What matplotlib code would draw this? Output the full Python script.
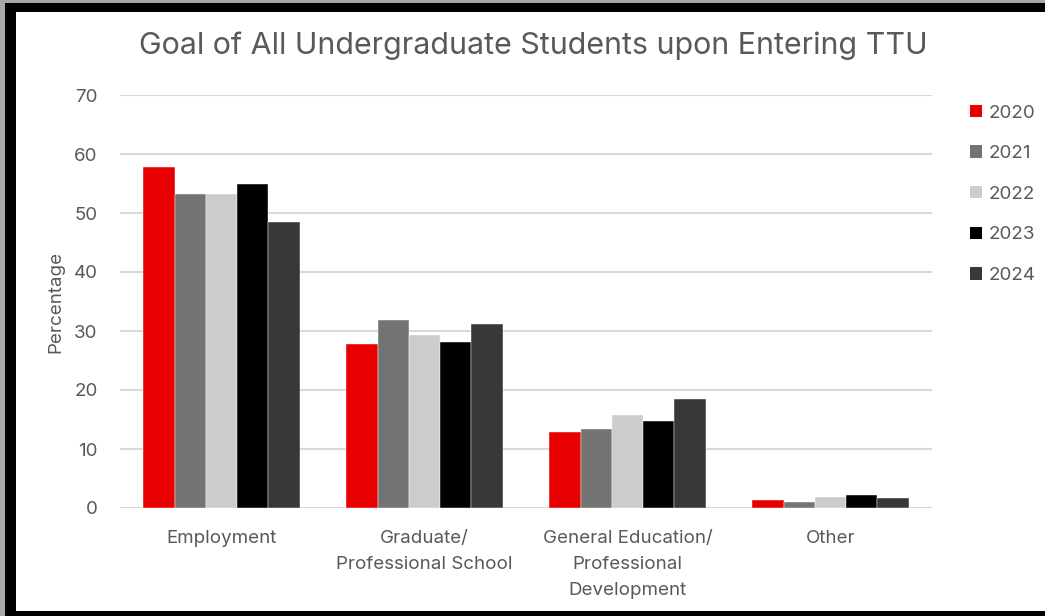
import numpy as np
import matplotlib.pyplot as plt
from matplotlib.patches import Patch, Rectangle

categories = ["Employment", "Graduate/\nProfessional School",
              "General Education/\nProfessional\nDevelopment", "Other"]
years = ["2020", "2021", "2022", "2023", "2024"]
values = {
    "2020": [57.8, 27.8, 12.9, 1.3],
    "2021": [53.2, 31.8, 13.4, 1.1],
    "2022": [53.2, 29.3, 15.7, 1.8],
    "2023": [55.0, 28.1, 14.7, 2.2],
    "2024": [48.5, 31.2, 18.5, 1.7],
}
colors = ["#E80000", "#737373", "#CCCCCC", "#000000", "#383838"]
yticks = [0, 10, 20, 30, 40, 50, 60, 70]

plt.rcParams["font.family"] = ["Inter", "DejaVu Sans"]
text_color = "#595959"

W, H = 1045, 616
fig = plt.figure(figsize=(W / 100, H / 100), dpi=100)
fig.patch.set_facecolor("black")

# frame: textured edge strip, black border, white chart area
fig.patches.append(Rectangle((0, 0), 5 / W, 1, transform=fig.transFigure,
                             facecolor="#a8a8a8", edgecolor="none", zorder=-5))
fig.patches.append(Rectangle((0, 1 - 3 / H), 1, 3 / H, transform=fig.transFigure,
                             facecolor="#a8a8a8", edgecolor="none", zorder=-5))
fig.patches.append(Rectangle((16 / W, 5 / H), 1 - 16 / W, (611 - 12) / H,
                             transform=fig.transFigure, facecolor="white",
                             edgecolor="none", zorder=-5))

ax = fig.add_axes([120 / W, (H - 508) / H, (932 - 120) / W, (508 - 95) / H])
ax.set_facecolor("none")

x = np.arange(len(categories))
bar_w = 1 / 6.5
for i, yr in enumerate(years):
    ax.bar(x + (i - 2) * bar_w, values[yr], width=bar_w, color=colors[i],
           edgecolor="white", linewidth=0.3, label=yr, zorder=3)

ax.set_xlim(-0.5, len(categories) - 0.5)
ax.set_ylim(0, 70)
ax.set_yticks(yticks)
ax.yaxis.grid(True, color="#D9D9D9", linewidth=1.5, zorder=0)
ax.set_axisbelow(True)
for s in ax.spines.values():
    s.set_visible(False)
ax.tick_params(axis="both", length=0, labelsize=13.5, labelcolor=text_color)
ax.tick_params(axis="y", pad=16)
ax.tick_params(axis="x", pad=15.5)
ax.set_xticks(x)
ax.set_xticklabels(categories, linespacing=1.72)

ax.set_ylabel("Percentage", fontsize=13.5, color=text_color, labelpad=7)
fig.text(533 / W, 1 - 46 / H, "Goal of All Undergraduate Students upon Entering TTU",
         ha="center", va="center", fontsize=21.9, color=text_color)

handles = [Patch(facecolor=c, edgecolor="none") for c in colors]
leg = fig.legend(handles, years, loc="upper left",
                 bbox_to_anchor=(962 / W, 1 - 97 / H), frameon=False,
                 fontsize=13.5, handlelength=0.65, handleheight=0.65,
                 handletextpad=0.35, labelspacing=1.26, borderaxespad=0)
for t in leg.get_texts():
    t.set_color(text_color)

fig.savefig("out.png", dpi=100, facecolor=fig.get_facecolor())
